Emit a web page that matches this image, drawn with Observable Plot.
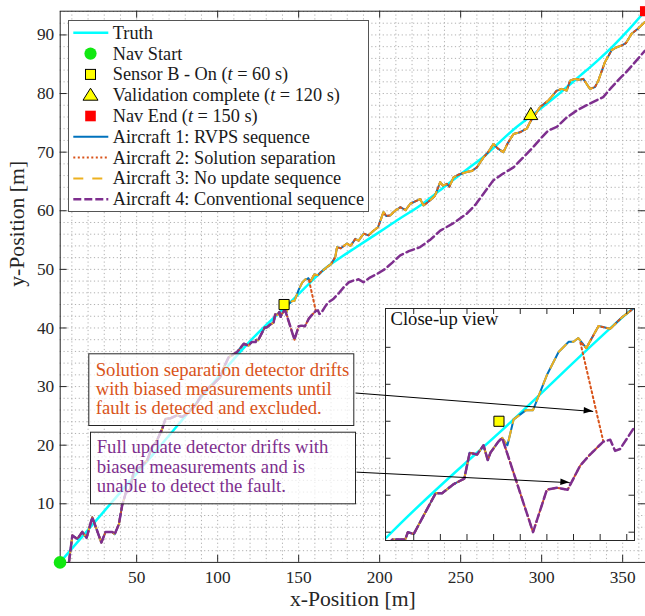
<!DOCTYPE html>
<html><head><meta charset="utf-8">
<script src="https://cdn.jsdelivr.net/npm/d3@7"></script>
<script src="https://cdn.jsdelivr.net/npm/@observablehq/plot@0.6"></script>
<style>
body{margin:0;background:#fff;}
#wrap{position:relative;width:645px;height:616px;overflow:hidden;font-family:"Liberation Serif","Times New Roman","DejaVu Serif",serif;}
#wrap > *{position:absolute;}
</style></head><body><div id="wrap"></div>
<script>
// ---------------- data ----------------
const truth = [[2.7,0],[60,18.4],[119.7,37.66],[143,43.9],[166.25,50.13],[172,51.3],[185,53.7],[200,56.4],[212,58.6],[225,60.9],[240,64.1],[255,67.3],[265,69.4],[282,73.7],[295,76.5],[310,79.8],[324,83.1],[334,85.5],[344,88.1],[354,91],[363.7,94.05]];
// shared by all aircraft before the fault
const common = [[8.2,0.0],[10.3,4.6],[13.4,4.0],[16.4,5.2],[19.1,4.2],[22.6,7.7],[28.2,3.4],[30.8,5.2],[34.9,5.2],[36.4,4.8],[39,6.5],[41.1,9.8],[43.2,11.8],[46,12.5],[48.3,15.7],[52,16.2],[56.5,17.4],[59.6,19.7],[62,20.5],[65.8,22.8],[67.8,24.5],[71,24.6],[75,25.1],[78,24.8],[81.2,25.4],[86.3,26.8],[90,28.5],[93.5,29.6],[97.6,30.5],[101.7,31.6],[103.8,33.3],[106.8,35.0],[112,35.9],[116.1,37.3],[119,37.0],[121,37.6],[123.4,37.6],[123.9,38.0],[125,37.9],[129.1,40.1],[130.3,40.1],[132.5,40.6],[134.5,40.9],[135.5,42.3],[136.9,42.2],[138.1,42.7],[138.9,41.9],[139.4,42.3],[140.9,42.9],[141.6,43.1]];
// RVPS / no-update track after the fault
const goodEarly = [[142.6,42.7],[143.75,44.1],[146.1,44.6],[147.4,44.6],[150,46.5],[152.2,47.75],[154.1,48.3],[155,48.3],[155.9,48.5]];
const goodLate = [[157.4,47.96],[159.7,49.15],[161.9,49.0],[164,49.6],[166.25,50.1],[167.5,50.4],[170,50.9],[172.6,52.1],[173.7,53.8],[176,53.6],[179.8,54.4],[182,54.0],[185,55.2],[187,54.9],[190.1,56.1],[193,55.8],[196.2,56.6],[199,57.2],[202.4,59.8],[204,59.1],[206.5,59.2],[209,59.9],[212.7,60.6],[216,60.1],[218.9,61.2],[222,61.6],[225,62.0],[227.1,60.9],[231.2,61.8],[234,62.5],[237.4,64.9],[239,64.3],[241.5,64.6],[243,64.1],[245.6,65.7],[249,66.2],[253.8,66.6],[257,66.8],[260,67.4],[264.1,69.1],[267,70],[270.2,71.4],[273,70.6],[276.4,70.0],[279,71.5],[282.6,73.1],[286.7,73.4],[290.8,74.0],[292.8,75.1],[296,76.4],[299,77.7],[304.1,78.8],[309.3,80.5],[312.4,80.8],[315.5,80.5],[317.5,82.2],[320.6,82.5],[323.7,82.35],[325.7,82.5],[329.8,80.8],[332.9,81.1],[335,82.2],[339.1,85.4],[343.2,87.4],[346.3,87.9],[349.4,88.2],[352,88.6],[355.5,90.2],[359.6,91.1],[363.7,92.2]];
// biased (conventional) track after the fault
const biasEarly = [[147.4,38.0],[150,40.3],[151.9,40.4],[153.9,40.3],[156.25,41.6],[158.1,42.2],[160.6,42.9]];
const biasLate = [[161.9,43.0],[162.8,42.4],[163.75,42.5],[166.25,43.6],[168,44.3],[171.6,45.0],[175,46],[178,47],[181,47.8],[183.9,48.1],[187,48.3],[190,47.8],[194,48.6],[198.3,49.2],[203,50],[208,51.2],[212.7,52.4],[218,53.1],[225,53.8],[231,55],[237.4,56.6],[245,57.8],[253.8,59.5],[259,61],[264.1,62.9],[270.2,65.2],[276,66.3],[282.6,67.4],[289,69.2],[294.9,70.9],[300,72.5],[304.1,73.7],[309.3,74.3],[315,75.8],[321.6,77.1],[329.8,78.3],[338,79.4],[343,81],[348.3,82.6],[352,83.6],[356.5,85],[363.7,87.3]];
const exclusionJump = [[156.25,48.3]];

const aircraft1 = [...common, ...goodEarly, ...goodLate];
const aircraft2 = [...common, ...biasEarly, ...exclusionJump, ...goodLate];
const aircraft3 = aircraft1;
const aircraft4 = [...common, ...biasEarly, ...biasLate];

const navStart = [[2.7, 0]];
const sensorOn = [[141, 44.0]];
const validation = [[293.3, 76.25]];
const navEnd = [[363.8, 94.05]];

const xTicks = [50,100,150,200,250,300,350];
const yTicks = [10,20,30,40,50,60,70,80,90];
const xGrid = d3.range(10, 361, 10);
const yGrid = d3.range(2, 95, 2);
const insetXTicks = [125,130,135,140,145,150,155,160,165];
const insetYTicks = [38,40,42,44,46,48];

const arrows = [{x1:185.1,y1:28.9,x2:331.8,y2:25.75},{x1:185.7,y1:15.4,x2:317.4,y2:13.6}];

// annotation boxes (page pixels), line text with measured widths from the reference
const notes = [
  {color:"#D95319", box:[88.3,353.3,266,72.7], textX:95.7, lines:[
    {t:"Solution separation detector drifts", cy:369.5, w:253.6},
    {t:"with biased measurements until", cy:388.7, w:236},
    {t:"fault is detected and excluded.", cy:407.7, w:226}]},
  {color:"#7E2F8E", box:[90,431.7,266,72.6], textX:96.7, lines:[
    {t:"Full update detector drifts with", cy:447.2, w:231.7},
    {t:"biased measurements and is", cy:466.7, w:208.3},
    {t:"unable to detect the fault.", cy:486, w:189.3}]}
];

const legendItems = [
  {label:[["Truth"]], kind:"line", stroke:"#00FFFF", w:2.5},
  {label:[["Nav Start"]], kind:"circle", fill:"#11e811"},
  {label:[["Sensor B - On ("],["t",1],[" = 60 s)"]], kind:"square", fill:"#FFFF00"},
  {label:[["Validation complete ("],["t",1],[" = 120 s)"]], kind:"triangle", fill:"#FFFF00"},
  {label:[["Nav End ("],["t",1],[" = 150 s)"]], kind:"redsq", fill:"#FF0000"},
  {label:[["Aircraft 1: RVPS sequence"]], kind:"line", stroke:"#0072BD", w:2},
  {label:[["Aircraft 2: Solution separation"]], kind:"line", stroke:"#D95319", w:2, dash:"2,2.5"},
  {label:[["Aircraft 3: No update sequence"]], kind:"line", stroke:"#EDB120", w:2, dash:"10,9"},
  {label:[["Aircraft 4: Conventional sequence"]], kind:"line", stroke:"#7E2F8E", w:2.5, dash:"8,3"}
];

// ---------------- styles ----------------
const FONT = '"Liberation Serif","Times New Roman","DejaVu Serif",serif';
const C = {truth:"#00FFFF", a1:"#0072BD", a2:"#D95319", a3:"#EDB120", a4:"#7E2F8E"};
const X = d => d[0], Y = d => d[1];
function trackMarks(clip){
  return [
    Plot.line(truth, {x:X, y:Y, stroke:C.truth, strokeWidth:2.5, curve:"catmull-rom", clip}),
    Plot.line(aircraft1, {x:X, y:Y, stroke:C.a1, strokeWidth:2, clip}),
    Plot.line(aircraft2, {x:X, y:Y, stroke:C.a2, strokeWidth:2, strokeDasharray:"2,3", clip}),
    Plot.line(aircraft3, {x:X, y:Y, stroke:C.a3, strokeWidth:2, strokeDasharray:"10,8", clip}),
    Plot.line(aircraft4, {x:X, y:Y, stroke:C.a4, strokeWidth:2.5, strokeDasharray:"8,4", clip})
  ];
}

// ---------------- main plot ----------------
const W=645, H=616, mL=59.7, mR=0, mT=10.7, mB=54.1;
const pw=W-mL-mR, ph=H-mT-mB;
const xDom=[2.8,364.1], yDom=[0,94.05];
const ax = "#262626";
const wrap = document.getElementById("wrap");

const main = Plot.plot({
  width:W, height:H, marginLeft:mL, marginRight:mR, marginTop:mT, marginBottom:mB,
  x:{domain:xDom}, y:{domain:yDom},
  style:{fontFamily:FONT, fontSize:"17px", background:"white", color:ax, overflow:"visible"},
  marks:[
    Plot.gridX(xGrid, {stroke:"#b0b0b0", strokeOpacity:1, strokeDasharray:"1.2,2.6"}),
    Plot.gridY(yGrid, {stroke:"#b0b0b0", strokeOpacity:1, strokeDasharray:"1.2,2.6"}),
    ...trackMarks(true),
    Plot.frame({stroke:ax}),
    Plot.tickX(xTicks, {x:d=>d, insetTop:ph-7, stroke:ax}),
    Plot.tickX(xTicks, {x:d=>d, insetBottom:ph-7, stroke:ax}),
    Plot.tickY(yTicks, {y:d=>d, insetRight:pw-7, stroke:ax}),
    Plot.tickY(yTicks, {y:d=>d, insetLeft:pw-7, stroke:ax}),
    Plot.axisX(xTicks, {tickSize:0, tickPadding:8, fontSize:17.3, label:null}),
    Plot.axisY(yTicks, {tickSize:0, tickPadding:6, fontSize:17.3, label:null}),
    Plot.text(["x-Position [m]"], {text:d=>d, frameAnchor:"bottom", dy:44, fontSize:21.7, fill:ax}),
    Plot.text(["y-Position [m]"], {text:d=>d, frameAnchor:"left", dx:-42.7, rotate:-90, fontSize:21.7, fill:ax}),
    Plot.dot(navStart, {x:X, y:Y, r:6.3, fill:"#11e811", stroke:"none"}),
    Plot.dot(sensorOn, {x:X, y:Y, symbol:"square", r:5.7, fill:"#FFFF00", stroke:"#000", strokeWidth:1}),
    Plot.dot(validation, {x:X, y:Y, symbol:"triangle", r:5.2, fill:"#FFFF00", stroke:"#000", strokeWidth:1}),
    Plot.dot(navEnd, {x:X, y:Y, symbol:"square", r:5.7, fill:"#FF0000", stroke:"none"})
  ]
});
main.style.left="0px"; main.style.top="0px";
wrap.appendChild(main);

// annotation boxes (SVG overlay)
const ns = d3.create("svg").attr("width",W).attr("height",H).style("left","0px").style("top","0px")
  .style("font-family",FONT).style("font-size","18.5px").style("pointer-events","none");
notes.forEach(n => {
  ns.append("rect").attr("x",n.box[0]+0.5).attr("y",n.box[1]+0.5).attr("width",n.box[2]-1).attr("height",n.box[3]-1)
    .attr("fill","white").attr("fill-opacity",0.72).attr("stroke","#262626").attr("stroke-width",1);
  n.lines.forEach(l => {
    ns.append("text").attr("x",n.textX).attr("y",l.cy).attr("dy","0.34em").attr("fill",n.color)
      .attr("textLength",l.w).attr("lengthAdjust","spacingAndGlyphs").text(l.t);
  });
});
wrap.appendChild(ns.node());

// legend
const LW=300, LH=191;
const leg = d3.create("svg").attr("width",LW+1).attr("height",LH+1)
  .style("left","68px").style("top","19.5px").style("font-family",FONT).style("font-size","18.3px");
leg.append("rect").attr("x",0.5).attr("y",0.5).attr("width",LW).attr("height",LH).attr("fill","white").attr("stroke","#555").attr("stroke-width",1);
legendItems.forEach((it,i) => {
  const cy = 12.8 + i*20.8;
  const g = leg.append("g");
  if (it.kind==="line") {
    g.append("line").attr("x1",5.3).attr("x2",40.3).attr("y1",cy).attr("y2",cy)
      .attr("stroke",it.stroke).attr("stroke-width",it.w).attr("stroke-dasharray",it.dash||null);
  } else if (it.kind==="circle") {
    g.append("circle").attr("cx",22.5).attr("cy",cy).attr("r",6.1).attr("fill",it.fill);
  } else if (it.kind==="square") {
    g.append("rect").attr("x",22.5-5).attr("y",cy-5).attr("width",10).attr("height",10).attr("fill",it.fill).attr("stroke","#000");
  } else if (it.kind==="redsq") {
    g.append("rect").attr("x",22.5-5.3).attr("y",cy-5.3).attr("width",10.6).attr("height",10.6).attr("fill",it.fill);
  } else if (it.kind==="triangle") {
    g.append("path").attr("d",`M${22.5},${cy-7}L${22.5+7.5},${cy+5}L${22.5-7.5},${cy+5}Z`).attr("fill",it.fill).attr("stroke","#000");
  }
  const t = g.append("text").attr("x",44.8).attr("y",cy).attr("dy","0.33em").attr("fill","#1a1a1a");
  it.label.forEach(seg => t.append("tspan").text(seg[0]).attr("font-style",seg[1]?"italic":null));
});
wrap.appendChild(leg.node());

// inset
const iW=251, iH=234;
const iph=iH-2, ipw=iW-2;
const inset = Plot.plot({
  width:iW, height:iH, marginLeft:1, marginRight:1, marginTop:1, marginBottom:1,
  x:{domain:[119.7,166.45], axis:null}, y:{domain:[37.55,50.1], axis:null},
  style:{background:"white", fontFamily:FONT, overflow:"hidden"},
  marks:[
    ...trackMarks(true),
    Plot.dot(sensorOn, {x:X, y:Y, symbol:"square", r:5.7, fill:"#FFFF00", stroke:"#000", strokeWidth:1}),
    Plot.tickX(insetXTicks, {x:d=>d, insetTop:iph-6, stroke:ax}),
    Plot.tickX(insetXTicks, {x:d=>d, insetBottom:iph-6, stroke:ax}),
    Plot.tickY(insetYTicks, {y:d=>d, insetRight:ipw-5.5, stroke:ax}),
    Plot.tickY(insetYTicks, {y:d=>d, insetLeft:ipw-5.5, stroke:ax}),
    Plot.frame({stroke:ax}),
    Plot.text(["Close-up view"], {text:d=>d, frameAnchor:"top-left", dx:5, dy:3, textAnchor:"start", lineAnchor:"top", fontSize:18.5, fill:"#111"})
  ]
});
d3.select(inset).selectAll("text").filter(function(){return this.textContent==="Close-up view";})
  .attr("textLength",108).attr("lengthAdjust","spacingAndGlyphs");
inset.style.left="384px"; inset.style.top="307px";
wrap.appendChild(inset);

// arrows overlay (same scales as main)
const ov = Plot.plot({
  width:W, height:H, marginLeft:mL, marginRight:mR, marginTop:mT, marginBottom:mB,
  x:{domain:xDom, axis:null}, y:{domain:yDom, axis:null},
  style:{background:"transparent", overflow:"visible"},
  marks:[Plot.link(arrows, {x1:"x1", y1:"y1", x2:"x2", y2:"y2", stroke:"#000", strokeWidth:1})]
});
const sx = ov.scale("x"), sy = ov.scale("y");
const hg = d3.select(ov).append("g");
arrows.forEach(a => {
  const px1=sx.apply(a.x1), py1=sy.apply(a.y1), px2=sx.apply(a.x2), py2=sy.apply(a.y2);
  const ang=Math.atan2(py2-py1, px2-px1), L=9, Wd=3.3;
  const bx=px2-L*Math.cos(ang), by=py2-L*Math.sin(ang), nx=-Math.sin(ang), ny=Math.cos(ang);
  hg.append("path").attr("d",`M${px2},${py2}L${bx+nx*Wd},${by+ny*Wd}L${bx-nx*Wd},${by-ny*Wd}Z`).attr("fill","#000");
});
ov.style.left="0px"; ov.style.top="0px"; ov.style.pointerEvents="none";
wrap.appendChild(ov);
</script></body></html>
